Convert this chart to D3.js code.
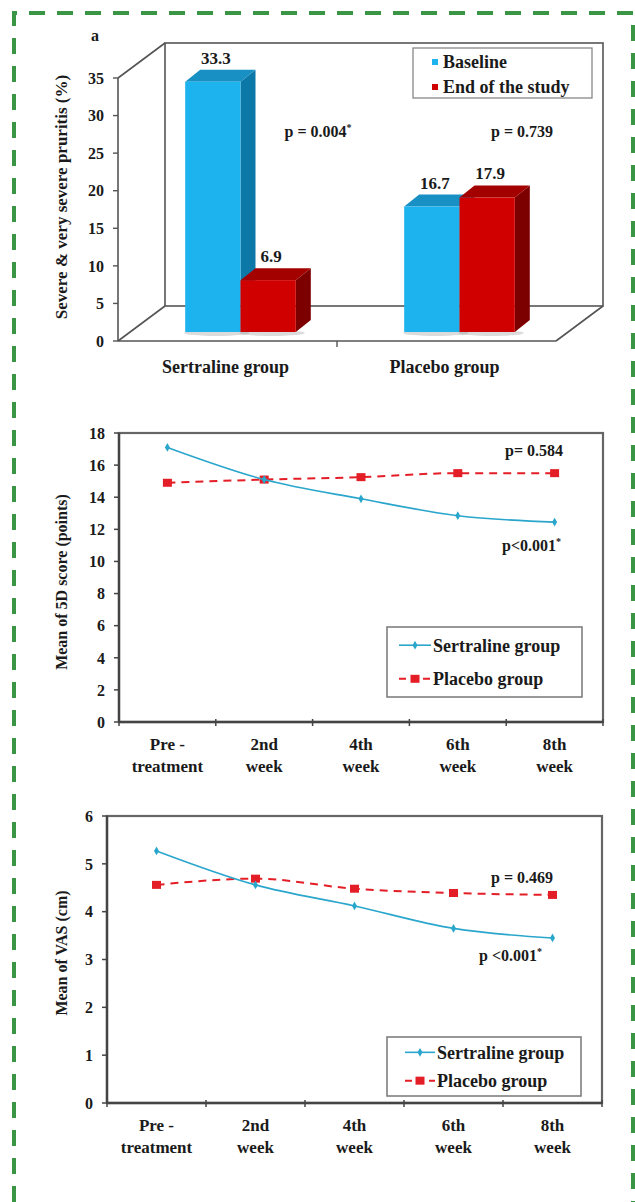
<!DOCTYPE html>
<html>
<head>
<meta charset="utf-8">
<script src="https://cdn.jsdelivr.net/npm/d3@7"></script>
<style>
  html, body { margin: 0; padding: 0; background: #fff; }
  svg { display: block; }
  text { font-family: "Liberation Serif", "Times New Roman", serif; font-weight: bold; fill: #1a1a1a; }
</style>
</head>
<body>
<svg id="chart" width="635" height="1202"></svg>
<script>
// ---------------- DATA ----------------
const barGroups = ["Sertraline group", "Placebo group"];
const barSeries = ["Baseline", "End of the study"];
const baselineValues = [33.3, 16.7];
const endValues = [6.9, 17.9];
const barTicks = [0, 5, 10, 15, 20, 25, 30, 35];
const barPValues = ["p  = 0.004", "p  = 0.739"];
const barPStars = ["*", ""];

const timepoints = [["Pre -", "treatment"], ["2nd", "week"], ["4th", "week"], ["6th", "week"], ["8th", "week"]];
const lineSeries = ["Sertraline group", "Placebo group"];

const score5DSertraline = [17.1, 15.1, 13.9, 12.85, 12.45];
const score5DPlacebo = [14.9, 15.1, 15.25, 15.5, 15.5];
const score5DTicks = [0, 2, 4, 6, 8, 10, 12, 14, 16, 18];

const vasSertraline = [5.27, 4.56, 4.12, 3.65, 3.45];
const vasPlacebo = [4.56, 4.69, 4.48, 4.39, 4.35];
const vasTicks = [0, 1, 2, 3, 4, 5, 6];

// ---------------- STYLE ----------------
const BLUE = "#1db3ef", BLUE_SIDE = "#0b78a8", BLUE_TOP = "#1890c4";
const RED = "#d00000", RED_SIDE = "#7d0000", RED_TOP = "#a30000";
const TEAL = "#2aa6cc", PRED = "#e41e26";
const AXIS = "#555";

const svg = d3.select("#chart");

// green dashed frame
svg.append("path")
  .attr("d", "M14,1202 L14,13 L633,13 L633,1202")
  .attr("fill", "none").attr("stroke", "#3a9545").attr("stroke-width", 4)
  .attr("stroke-dasharray", "16,12");

// ================= CHART A (3D bars) =================
(function () {
  const g = svg.append("g");
  const x0 = 118, x1 = 556, yBase = 341, yTop = 78;
  const DX = 47, DY = -35;            // depth of the 3D box
  const oDX = 13, oDY = -9;           // bar position inside the depth
  const bDX = 15, bDY = -12;          // bar own depth

  const y = d3.scaleLinear().domain([0, 35]).range([yBase, yTop]);
  const xg = d3.scaleBand().domain(barGroups).range([x0, x1]).paddingInner(0).paddingOuter(0);
  const xs = d3.scaleBand().domain(barSeries).range([0, xg.bandwidth()]).paddingInner(0).paddingOuter(0.98);

  // back wall
  g.append("rect").attr("x", x0 + DX).attr("y", yTop + DY)
    .attr("width", x1 - x0).attr("height", yBase - yTop)
    .attr("fill", "#fff").attr("stroke", AXIS).attr("stroke-width", 1.6);
  // side wall & floor edges
  const lines = [
    [x0, y(35), x0 + DX, y(35) + DY],
    [x0, yBase, x0 + DX, yBase + DY],
    [x1, yBase, x1 + DX, yBase + DY],
    [x0, yBase, x1, yBase],
    [x0, y(35), x0, yBase]
  ];
  g.selectAll("line.edge").data(lines).join("line").attr("class", "edge")
    .attr("x1", d => d[0]).attr("y1", d => d[1]).attr("x2", d => d[2]).attr("y2", d => d[3])
    .attr("stroke", AXIS).attr("stroke-width", 1.6);

  // y ticks
  g.selectAll("line.yt").data(barTicks).join("line").attr("class", "yt")
    .attr("x1", x0 - 5).attr("x2", x0).attr("y1", d => y(d)).attr("y2", d => y(d))
    .attr("stroke", AXIS).attr("stroke-width", 1.4);
  g.selectAll("text.yl").data(barTicks).join("text").attr("class", "yl")
    .attr("x", x0 - 14).attr("y", d => y(d)).attr("dy", "0.36em")
    .attr("text-anchor", "end").style("font-size", "16px").text(d => d);
  // x separator tick
  g.append("line").attr("x1", xg(barGroups[1])).attr("x2", xg(barGroups[1]))
    .attr("y1", yBase).attr("y2", yBase + 6).attr("stroke", AXIS).attr("stroke-width", 1.4);

  // bars
  const bars = [];
  barGroups.forEach((grp, i) => {
    bars.push({ grp, s: barSeries[0], v: baselineValues[i], f: BLUE, side: BLUE_SIDE, top: BLUE_TOP });
    bars.push({ grp, s: barSeries[1], v: endValues[i], f: RED, side: RED_SIDE, top: RED_TOP });
  });
  const bw = xs.bandwidth();
  const bg = g.selectAll("g.bar").data(bars).join("g").attr("class", "bar");
  // shadow
  bg.append("ellipse")
    .attr("cx", d => xg(d.grp) + xs(d.s) + oDX + bw / 2 + 4)
    .attr("cy", yBase + oDY + 1).attr("rx", bw / 2 + 5).attr("ry", 3)
    .attr("fill", "#999").attr("opacity", 0.35);
  bg.append("path").attr("fill", d => d.side).attr("d", d => {
    const xl = xg(d.grp) + xs(d.s) + oDX, xr = xl + bw;
    const yt = y(d.v) + oDY, yb = yBase + oDY;
    return `M${xr},${yt} L${xr + bDX},${yt + bDY} L${xr + bDX},${yb + bDY} L${xr},${yb} Z`;
  });
  bg.append("path").attr("fill", d => d.top).attr("d", d => {
    const xl = xg(d.grp) + xs(d.s) + oDX, xr = xl + bw;
    const yt = y(d.v) + oDY;
    return `M${xl},${yt} L${xl + bDX},${yt + bDY} L${xr + bDX},${yt + bDY} L${xr},${yt} Z`;
  });
  bg.append("rect").attr("fill", d => d.f)
    .attr("x", d => xg(d.grp) + xs(d.s) + oDX).attr("width", bw)
    .attr("y", d => y(d.v) + oDY).attr("height", d => yBase - y(d.v));
  // value labels
  bg.append("text").attr("text-anchor", "middle").style("font-size", "17px")
    .attr("x", d => xg(d.grp) + xs(d.s) + oDX + bw / 2 + 3)
    .attr("y", d => y(d.v) + oDY + bDY - 6)
    .text(d => d.v.toFixed(1));

  // category labels
  g.selectAll("text.xl").data(barGroups).join("text").attr("class", "xl")
    .attr("x", d => xg(d) + xg.bandwidth() / 2 - 2).attr("y", 373)
    .attr("text-anchor", "middle").style("font-size", "18px").text(d => d);

  // p-values
  const pX = [318, 522];
  barPValues.forEach((p, i) => {
    const t = g.append("text").attr("x", pX[i]).attr("y", 137).attr("text-anchor", "middle").style("font-size", "16px");
    t.append("tspan").text(p);
    if (barPStars[i]) t.append("tspan").attr("dy", -6).style("font-size", "10px").text(barPStars[i]);
  });

  // y title
  g.append("text").attr("transform", "translate(61,197) rotate(-90)")
    .attr("text-anchor", "middle").attr("dy", "0.35em").style("font-size", "17px")
    .text("Severe & very severe pruritis (%)");
  // panel letter
  g.append("text").attr("x", 95).attr("y", 41).attr("text-anchor", "middle").style("font-size", "16px").text("a");

  // legend
  const lg = g.append("g");
  lg.append("rect").attr("x", 413).attr("y", 48).attr("width", 179).attr("height", 50)
    .attr("fill", "#fff").attr("stroke", "#888").attr("stroke-width", 1.3);
  const lc = [BLUE, RED];
  barSeries.forEach((s, i) => {
    lg.append("rect").attr("x", 432).attr("y", 59 + i * 25).attr("width", 6).attr("height", 6).attr("fill", lc[i]);
    lg.append("text").attr("x", 443).attr("y", 62 + i * 25).attr("dy", "0.35em").style("font-size", "18px").text(s);
  });
})();

// ================= LINE CHARTS =================
function lineChart(opt) {
  const g = svg.append("g");
  const x = d3.scaleBand().domain(timepoints.map(d => d.join(" "))).range([opt.x0, opt.x1]);
  const y = d3.scaleLinear().domain([0, opt.max]).range([opt.yb, opt.yt]);
  const cx = i => x(timepoints[i].join(" ")) + x.bandwidth() / 2;

  // frame
  g.append("rect").attr("x", opt.x0).attr("y", opt.yt).attr("width", opt.x1 - opt.x0).attr("height", opt.yb - opt.yt)
    .attr("fill", "#fff").attr("stroke", "#666").attr("stroke-width", 2.2);
  g.append("line").attr("x1", opt.x0).attr("x2", opt.x0).attr("y1", opt.yt).attr("y2", opt.yb).attr("stroke", "#444").attr("stroke-width", 2.4);
  g.append("line").attr("x1", opt.x0).attr("x2", opt.x1).attr("y1", opt.yb).attr("y2", opt.yb).attr("stroke", "#444").attr("stroke-width", 2.4);

  // y axis ticks
  g.selectAll("line.yt").data(opt.ticks).join("line").attr("class", "yt")
    .attr("x1", opt.x0 - 5).attr("x2", opt.x0).attr("y1", d => y(d)).attr("y2", d => y(d))
    .attr("stroke", "#444").attr("stroke-width", 1.5);
  g.selectAll("text.yl").data(opt.ticks).join("text").attr("class", "yl")
    .attr("x", opt.x0 - 14).attr("y", d => y(d)).attr("dy", "0.36em")
    .attr("text-anchor", "end").style("font-size", "16px").text(d => d);

  // x ticks at band boundaries
  const bounds = timepoints.map(d => x(d.join(" "))).concat([opt.x1]);
  g.selectAll("line.xt").data(bounds).join("line").attr("class", "xt")
    .attr("x1", d => d).attr("x2", d => d).attr("y1", opt.yb - 3).attr("y2", opt.yb + 4)
    .attr("stroke", "#444").attr("stroke-width", 1.5);
  // x labels
  const xl = g.selectAll("text.xl").data(timepoints).join("text").attr("class", "xl")
    .attr("text-anchor", "middle").style("font-size", "17px");
  xl.append("tspan").attr("x", (d, i) => cx(i)).attr("y", opt.yb + 28).text(d => d[0]);
  xl.append("tspan").attr("x", (d, i) => cx(i)).attr("y", opt.yb + 50).text(d => d[1]);

  // y title
  g.append("text").attr("transform", `translate(61,${opt.titleY}) rotate(-90)`)
    .attr("text-anchor", "middle").attr("dy", "0.35em").style("font-size", "16px").text(opt.title);

  const line = d3.line().x((d, i) => cx(i)).y(d => y(d)).curve(d3.curveMonotoneX);

  // placebo (dashed red)
  g.append("path").datum(opt.placebo).attr("d", line).attr("fill", "none")
    .attr("stroke", PRED).attr("stroke-width", 2).attr("stroke-dasharray", "8,6");
  g.selectAll("rect.pm").data(opt.placebo).join("rect").attr("class", "pm")
    .attr("x", (d, i) => cx(i) - 4.5).attr("y", d => y(d) - 4).attr("width", 9).attr("height", 8).attr("fill", PRED);
  // sertraline (solid teal)
  g.append("path").datum(opt.sertraline).attr("d", line).attr("fill", "none")
    .attr("stroke", TEAL).attr("stroke-width", 1.6);
  const diamond = d3.symbol().type(d3.symbolDiamond).size(22);
  g.selectAll("path.sm").data(opt.sertraline).join("path").attr("class", "sm")
    .attr("transform", (d, i) => `translate(${cx(i)},${y(d)})`).attr("d", diamond).attr("fill", TEAL);

  // p-values
  opt.pLabels.forEach(p => {
    const t = g.append("text").attr("x", p.x).attr("y", p.y).attr("text-anchor", "end").style("font-size", "16px");
    t.append("tspan").text(p.text);
    if (p.star) t.append("tspan").attr("dy", -6).style("font-size", "10px").text("*");
  });

  // legend
  const L = opt.legend;
  const lg = g.append("g");
  lg.append("rect").attr("x", L.x).attr("y", L.y).attr("width", L.w).attr("height", L.h)
    .attr("fill", "#fff").attr("stroke", "#777").attr("stroke-width", 1.5);
  const ly = [L.y + L.h * 0.26, L.y + L.h * 0.74];
  lg.append("line").attr("x1", L.sx0).attr("x2", L.sx1).attr("y1", ly[0]).attr("y2", ly[0]).attr("stroke", TEAL).attr("stroke-width", 1.6);
  lg.append("path").attr("transform", `translate(${(L.sx0 + L.sx1) / 2},${ly[0]})`).attr("d", diamond).attr("fill", TEAL);
  lg.append("line").attr("x1", L.sx0).attr("x2", L.sx1).attr("y1", ly[1]).attr("y2", ly[1]).attr("stroke", PRED).attr("stroke-width", 2).attr("stroke-dasharray", "7,5");
  lg.append("rect").attr("x", (L.sx0 + L.sx1) / 2 - 4.5).attr("y", ly[1] - 4).attr("width", 9).attr("height", 8).attr("fill", PRED);
  lineSeries.forEach((s, i) => {
    lg.append("text").attr("x", L.sx1 + 2).attr("y", ly[i]).attr("dy", "0.35em").style("font-size", "18px").text(s);
  });
}

lineChart({
  x0: 119, x1: 603, yt: 433, yb: 722, max: 18, ticks: score5DTicks,
  sertraline: score5DSertraline, placebo: score5DPlacebo,
  title: "Mean of 5D score (points)", titleY: 582,
  pLabels: [{ text: "p= 0.584", x: 563, y: 456, star: false }, { text: "p<0.001", x: 561, y: 551, star: true }],
  legend: { x: 387, y: 627, w: 195, h: 70, sx0: 399, sx1: 431 }
});

lineChart({
  x0: 107, x1: 602, yt: 816, yb: 1103, max: 6, ticks: vasTicks,
  sertraline: vasSertraline, placebo: vasPlacebo,
  title: "Mean of VAS (cm)", titleY: 953,
  pLabels: [{ text: "p = 0.469", x: 553, y: 883, star: false }, { text: "p <0.001", x: 542, y: 961, star: true }],
  legend: { x: 387, y: 1037, w: 194, h: 59, sx0: 405, sx1: 435 }
});
</script>
</body>
</html>
